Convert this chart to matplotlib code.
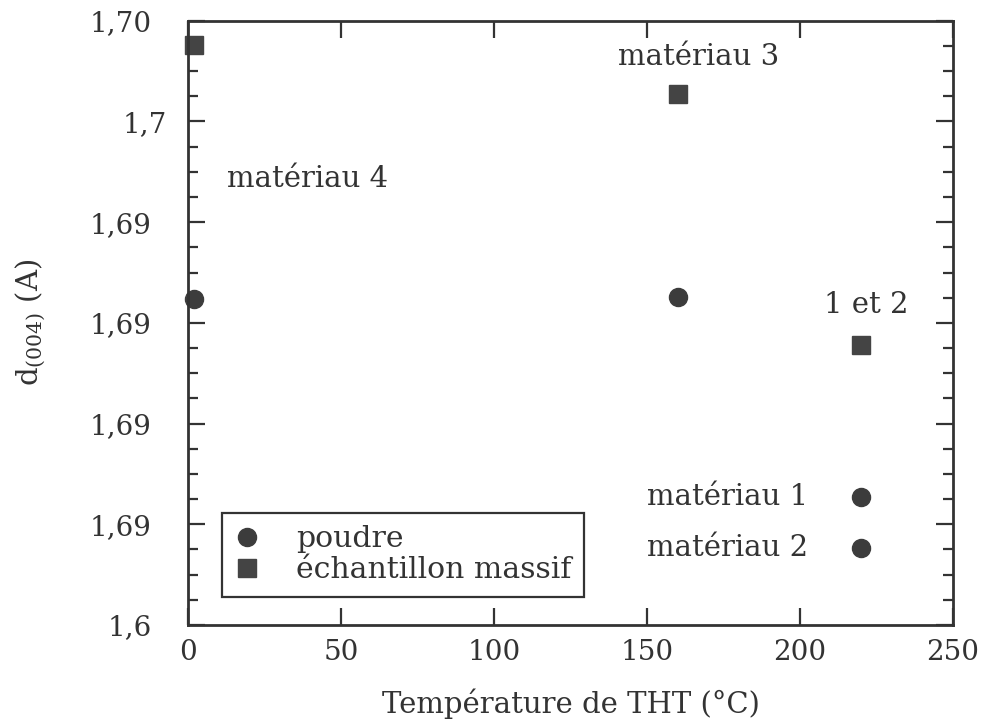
import numpy as np
import matplotlib
matplotlib.use('Agg')
import matplotlib.pyplot as plt
import matplotlib.transforms as mtransforms
from matplotlib.ticker import AutoMinorLocator

plt.rcParams['font.family'] = ['DejaVu Serif']
plt.rcParams['mathtext.fontset'] = 'dejavuserif'

ink = '#333333'

# data (temperature in degC, d(004) in A)
poudre_T = [2, 160, 220, 220]
poudre_d = [1.69447, 1.69451, 1.69054, 1.68952]
massif_T = [2, 160, 220]
massif_d = [1.69952, 1.69854, 1.69356]

y_ticks = [1.688, 1.690, 1.692, 1.694, 1.696, 1.698, 1.700]
y_labels = ['1,6', '1,69', '1,69', '1,69', '1,69', '1,7', '1,70']
x_ticks = [0, 50, 100, 150, 200, 250]

fig = plt.figure(figsize=(9.84, 7.22), dpi=100)
ax = fig.add_axes([0.191, 0.1343, 0.7775, 0.837])

ax.plot(poudre_T, poudre_d, 'o', ms=13, color='#3c3c3c', label='poudre', clip_on=False)
ax.plot(massif_T, massif_d, 's', ms=13, color='#444444', label='échantillon massif', clip_on=False)

ax.set_xlim(0, 250)
ax.set_ylim(1.688, 1.700)
ax.set_xticks(x_ticks)
ax.set_yticks(y_ticks)
ax.set_yticklabels(y_labels)
ax.yaxis.set_minor_locator(AutoMinorLocator(4))

ax.tick_params(which='both', direction='in', top=True, right=True, colors=ink,
               labelsize=20, width=1.6)
ax.tick_params(which='major', length=12)
ax.tick_params(axis='x', which='major', pad=10)
ax.tick_params(axis='y', which='major', pad=26)
ax.tick_params(which='minor', length=7)
for s in ax.spines.values():
    s.set_linewidth(2)
    s.set_color(ink)

# the "1,7" label sits a little closer to the axis in the original
shift = mtransforms.ScaledTranslation(0.15, 0, fig.dpi_scale_trans)
lab = ax.get_yticklabels()[5]
lab.set_transform(lab.get_transform() + shift)

ax.set_xlabel('Température de THT (°C)', fontsize=21, color=ink, labelpad=16)
ax.set_ylabel(r'd$_{(004)}$ (A)', fontsize=21, color=ink, labelpad=30)

fs = 21
ax.text(167, 1.69928, 'matériau 3', fontsize=fs, color=ink, ha='center', va='center')
ax.text(12.7, 1.69685, 'matériau 4', fontsize=fs, color=ink, ha='left', va='center')
ax.text(221.6, 1.69435, '1 et 2', fontsize=fs, color=ink, ha='center', va='center')
ax.text(202.6, 1.69054, 'matériau 1', fontsize=fs, color=ink, ha='right', va='center')
ax.text(202.6, 1.68953, 'matériau 2', fontsize=fs, color=ink, ha='right', va='center')

leg = ax.legend(loc='lower left', bbox_to_anchor=(0.045, 0.047), borderaxespad=0,
                fontsize=21.5, handletextpad=1.25, labelspacing=0.1, borderpad=0.42,
                fancybox=False, edgecolor=ink, framealpha=1, handlelength=0.8)
leg.get_frame().set_linewidth(1.6)
for t in leg.get_texts():
    t.set_color(ink)

plt.savefig('out.png', dpi=100)
